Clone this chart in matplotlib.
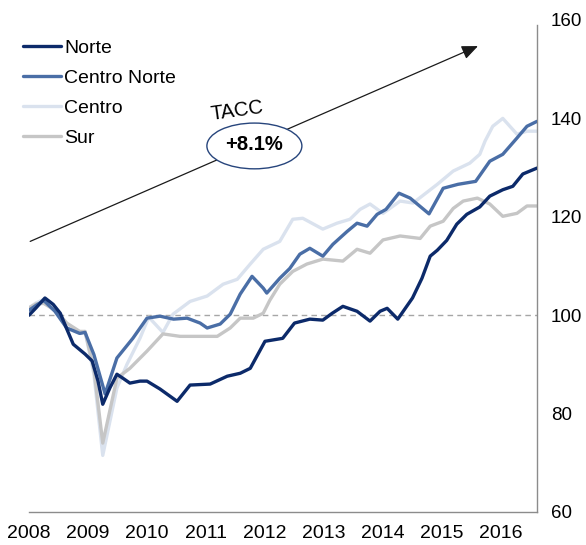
import matplotlib
matplotlib.use("Agg")
import matplotlib.pyplot as plt
from matplotlib.patches import Ellipse

plt.rcParams['font.family'] = ['Liberation Sans', 'DejaVu Sans']

# ---- data ----
norte_t = [2008.0, 2008.12, 2008.27, 2008.41, 2008.53, 2008.64, 2008.75, 2008.95, 2009.07, 2009.17,
           2009.25, 2009.37, 2009.49, 2009.59, 2009.71, 2009.88, 2010.0, 2010.22, 2010.51, 2010.73,
           2011.07, 2011.36, 2011.58, 2011.75, 2012.0, 2012.3, 2012.5, 2012.76, 2012.98, 2013.14,
           2013.32, 2013.56, 2013.78, 2013.95, 2014.07, 2014.25, 2014.5, 2014.66, 2014.8, 2014.92,
           2015.08, 2015.25, 2015.42, 2015.64, 2015.81, 2016.03, 2016.2, 2016.37, 2016.61]
norte_v = [100.0, 101.5, 103.5, 102.2, 100.4, 97.2, 94.1, 92.1, 90.7, 86.6,
           81.9, 85.2, 88.0, 87.2, 86.2, 86.6, 86.6, 85.0, 82.5, 85.8,
           86.0, 87.6, 88.2, 89.2, 94.7, 95.3, 98.4, 99.2, 99.0, 100.4,
           101.8, 100.8, 98.8, 100.8, 101.4, 99.2, 103.5, 107.5, 112.0, 113.2,
           115.2, 118.5, 120.5, 122.0, 124.2, 125.5, 126.2, 128.7, 129.9]

cnorte_t = [2008.0, 2008.12, 2008.25, 2008.44, 2008.64, 2008.86, 2008.95, 2009.1, 2009.29, 2009.49,
            2009.76, 2010.0, 2010.22, 2010.45, 2010.68, 2010.9, 2011.02, 2011.24, 2011.41, 2011.58,
            2011.78, 2011.97, 2012.03, 2012.25, 2012.42, 2012.59, 2012.76, 2012.98, 2013.15, 2013.39,
            2013.56, 2013.73, 2013.9, 2014.05, 2014.27, 2014.46, 2014.78, 2015.02, 2015.27, 2015.57,
            2015.81, 2016.03, 2016.27, 2016.44, 2016.61]
cnorte_v = [101.0, 102.0, 103.0, 100.8, 97.4, 96.3, 96.5, 92.0, 84.0, 91.3,
            95.3, 99.4, 99.8, 99.2, 99.4, 98.4, 97.4, 98.2, 100.2, 104.3,
            107.9, 105.5, 104.5, 107.5, 109.5, 112.4, 113.6, 112.0, 114.4, 117.0,
            118.7, 118.1, 120.5, 121.5, 124.8, 123.8, 120.6, 125.8, 126.6, 127.2,
            131.3, 132.7, 136.0, 138.4, 139.4]

centro_t = [2008.0, 2008.12, 2008.25, 2008.44, 2008.64, 2008.86, 2008.95, 2009.1, 2009.25, 2009.49,
            2009.66, 2009.88, 2010.03, 2010.27, 2010.44, 2010.73, 2011.02, 2011.29, 2011.53, 2011.75,
            2011.97, 2012.25, 2012.47, 2012.64, 2012.98, 2013.22, 2013.44, 2013.61, 2013.78, 2014.0,
            2014.29, 2014.51, 2014.92, 2015.19, 2015.47, 2015.64, 2015.73, 2015.86, 2016.03, 2016.27,
            2016.44, 2016.61]
centro_v = [101.5, 102.5, 103.2, 100.8, 97.4, 96.3, 96.7, 88.0, 71.5, 85.2,
            90.0, 95.3, 99.6, 96.5, 100.2, 102.8, 103.9, 106.3, 107.3, 110.4,
            113.4, 115.0, 119.5, 119.7, 117.5, 118.7, 119.5, 121.5, 122.6, 120.7,
            123.2, 122.8, 126.6, 129.3, 130.9, 132.7, 135.4, 138.4, 140.0, 136.8,
            137.4, 137.4]

sur_t = [2008.0, 2008.12, 2008.25, 2008.47, 2008.64, 2008.86, 2008.95, 2009.1, 2009.25, 2009.49,
         2009.71, 2010.0, 2010.27, 2010.56, 2010.85, 2011.19, 2011.41, 2011.58, 2011.8, 2011.97,
         2012.08, 2012.25, 2012.47, 2012.71, 2012.98, 2013.32, 2013.56, 2013.78, 2014.0, 2014.29,
         2014.63, 2014.8, 2015.02, 2015.19, 2015.36, 2015.6, 2015.81, 2016.03, 2016.27, 2016.44,
         2016.61]
sur_v = [101.5, 102.3, 102.4, 100.8, 98.4, 96.7, 96.7, 89.0, 74.0, 87.2,
         89.2, 92.7, 96.2, 95.7, 95.7, 95.7, 97.4, 99.4, 99.4, 100.4,
         103.0, 106.3, 108.9, 110.4, 111.4, 111.0, 113.4, 112.6, 115.3, 116.1,
         115.6, 118.1, 119.1, 121.7, 123.2, 123.8, 122.6, 120.1, 120.7, 122.2,
         122.2]

series_names = ["Norte", "Centro Norte", "Centro", "Sur"]
year_ticks = [2008, 2009, 2010, 2011, 2012, 2013, 2014, 2015, 2016]
y_ticks = [60, 80, 100, 120, 140, 160]
tacc_label = "+8.1%"

# ---- figure ----
fig = plt.figure(figsize=(5.86, 5.45), dpi=100)
ax = fig.add_axes([29/586, 1-512/545, (537-29)/586, (512-20)/545])

ax.axhline(100, color="#a6a6a6", lw=1.0, ls=(0, (4, 3)), zorder=0.5)

l_norte, = ax.plot(norte_t, norte_v, color="#0c2a6a", lw=2.4, zorder=4, solid_capstyle='round')
l_cn, = ax.plot(cnorte_t, cnorte_v, color="#4a6ea6", lw=2.4, zorder=3, solid_capstyle='round')
l_c, = ax.plot(centro_t, centro_v, color="#dae2ee", lw=2.4, zorder=1, solid_capstyle='round')
l_s, = ax.plot(sur_t, sur_v, color="#c6c6c6", lw=2.4, zorder=2, solid_capstyle='round')

ax.set_xlim(2008.0, 2016.61)
ax.set_ylim(60, 160)

ax.yaxis.tick_right()
ax.set_yticks(y_ticks)
ax.set_yticklabels([str(v) for v in y_ticks])
ax.set_xticks(year_ticks)
ax.set_xticklabels([str(v) for v in year_ticks])
ax.tick_params(axis='y', length=0, pad=10, labelsize=13.5, colors="#000000")
ax.tick_params(axis='x', length=0, pad=9, labelsize=14, colors="#000000")

for s in ["top", "left"]:
    ax.spines[s].set_visible(False)
for s in ["right", "bottom"]:
    ax.spines[s].set_color("#8c8c8c")
    ax.spines[s].set_linewidth(1.0)
ax.spines["right"].set_bounds(60, 159)

# arrow
ax.annotate("", xy=(2015.61, 154.7), xytext=(2008.02, 115.0),
            arrowprops=dict(arrowstyle="-|>,head_length=0.7,head_width=0.3", color="#1a1a1a", lw=0.9,
                            mutation_scale=14, shrinkA=0, shrinkB=0), zorder=5)

ax.text(2011.52, 141.6, "TACC", fontsize=14.5, rotation=8, ha="center", va="center", zorder=6)
ell = Ellipse((2011.82, 134.4), width=1.61, height=9.3, facecolor="white",
              edgecolor="#27457c", lw=1.0, zorder=6)
ax.add_patch(ell)
ax.text(2011.82, 134.6, tacc_label, fontsize=14.5, fontweight="bold", ha="center",
        va="center", zorder=7)

leg = ax.legend([l_norte, l_cn, l_c, l_s], series_names, loc="upper left",
                bbox_to_anchor=(-0.028, 0.976), frameon=False, fontsize=14,
                handlelength=2.0, handletextpad=0.15, labelspacing=0.63,
                borderaxespad=0)

fig.savefig("out.png", dpi=100)
